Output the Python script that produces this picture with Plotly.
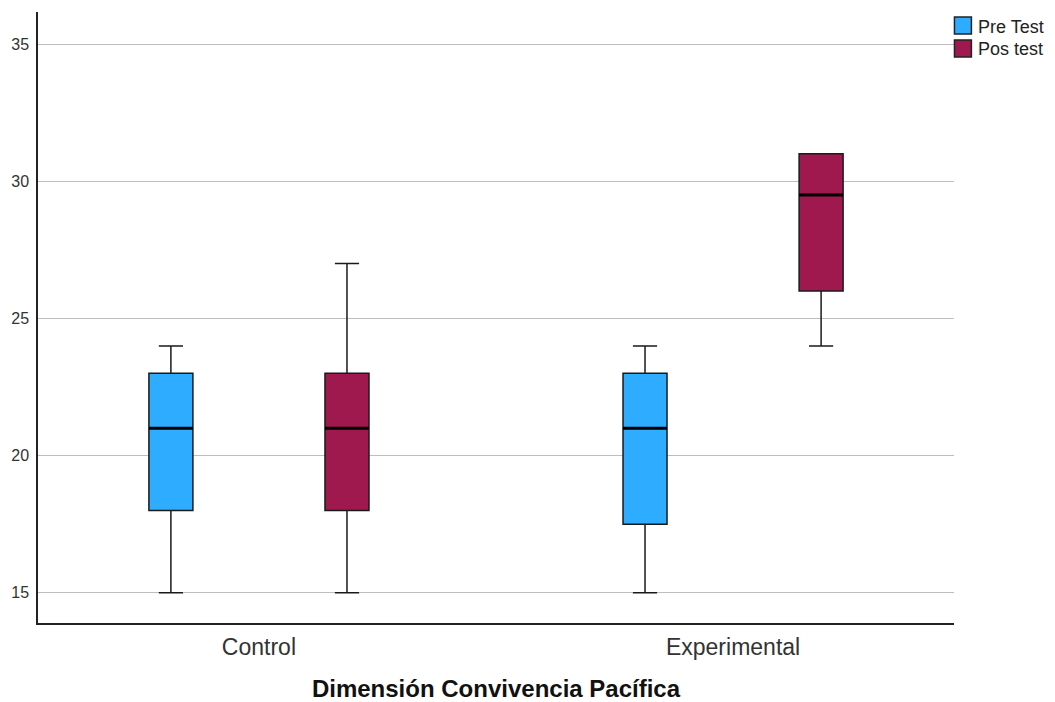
import plotly.graph_objects as go

groups = ["Control", "Experimental"]
series = ["Pre Test", "Pos test"]
colors = ["#2eacff", "#a0194e"]

# per series: values per group
lower = {"Pre Test": [15, 15], "Pos test": [15, 24]}
q1 = {"Pre Test": [18, 17.5], "Pos test": [18, 26]}
median = {"Pre Test": [21, 21], "Pos test": [21, 29.5]}
q3 = {"Pre Test": [23, 23], "Pos test": [23, 31]}
upper = {"Pre Test": [24, 24], "Pos test": [27, 31]}

y_ticks = [15, 20, 25, 30, 35]

offsets = [-0.1857, 0.1857]
box_w = 0.0928

fig = go.Figure()
for s, off, col in zip(series, offsets, colors):
    xs = [i + off for i in range(len(groups))]
    fig.add_trace(go.Box(
        name=s, x=xs, q1=q1[s], median=median[s], q3=q3[s],
        lowerfence=lower[s], upperfence=upper[s],
        width=box_w, whiskerwidth=0.55,
        fillcolor=col, line=dict(color="#1a1a1a", width=1.5),
        boxpoints=False, showlegend=False,
    ))
for s, off in zip(series, offsets):
    mx, my = [], []
    for i, m in enumerate(median[s]):
        c = i + off
        mx += [c - box_w / 2, c + box_w / 2, None]
        my += [m, m, None]
    fig.add_trace(go.Scatter(x=mx, y=my, mode="lines",
                             line=dict(color="black", width=3),
                             showlegend=False, hoverinfo="skip"))

# manual legend (swatches + labels), positioned in paper coordinates
leg_rows = [(0.9918, 0.9640, 0.9755), (0.9542, 0.9264, 0.9394)]
for s, col, (y0, y1, yt) in zip(series, colors, leg_rows):
    fig.add_shape(type="rect", xref="paper", yref="paper",
                  x0=1.0005, x1=1.0190, y0=y1, y1=y0,
                  fillcolor=col, line=dict(color="#222222", width=1.5))
    fig.add_annotation(xref="paper", yref="paper", x=1.0235, y=yt,
                       xanchor="left", yanchor="middle", text=s,
                       showarrow=False, font=dict(size=18, color="#222222"))

fig.update_layout(
    width=1047, height=694,
    margin=dict(l=30, r=101, t=4, b=79, autoexpand=False),
    plot_bgcolor="white", paper_bgcolor="white",
    boxmode="overlay", showlegend=False,
    font=dict(family="Liberation Sans, Arial, sans-serif", color="#333333"),
    xaxis=dict(range=[-0.466, 1.466], tickvals=[0, 1], ticktext=groups,
               showgrid=False, zeroline=False, showline=True,
               linecolor="#222222", linewidth=1.5, ticks="",
               ticklabelstandoff=3,
               tickfont=dict(size=23, color="#333333"),
               title=dict(text="<b>Dimensión Convivencia Pacífica</b>",
                          font=dict(size=24, color="#111111"), standoff=30)),
    yaxis=dict(range=[13.9, 36.17], tickvals=y_ticks,
               showgrid=True, gridcolor="#bdbdbd", gridwidth=1.3,
               zeroline=False, showline=True, linecolor="#222222",
               linewidth=1.5, ticks="", ticklabelstandoff=4,
               tickfont=dict(size=16, color="#333333")),
)
fig.write_html("out.html")
